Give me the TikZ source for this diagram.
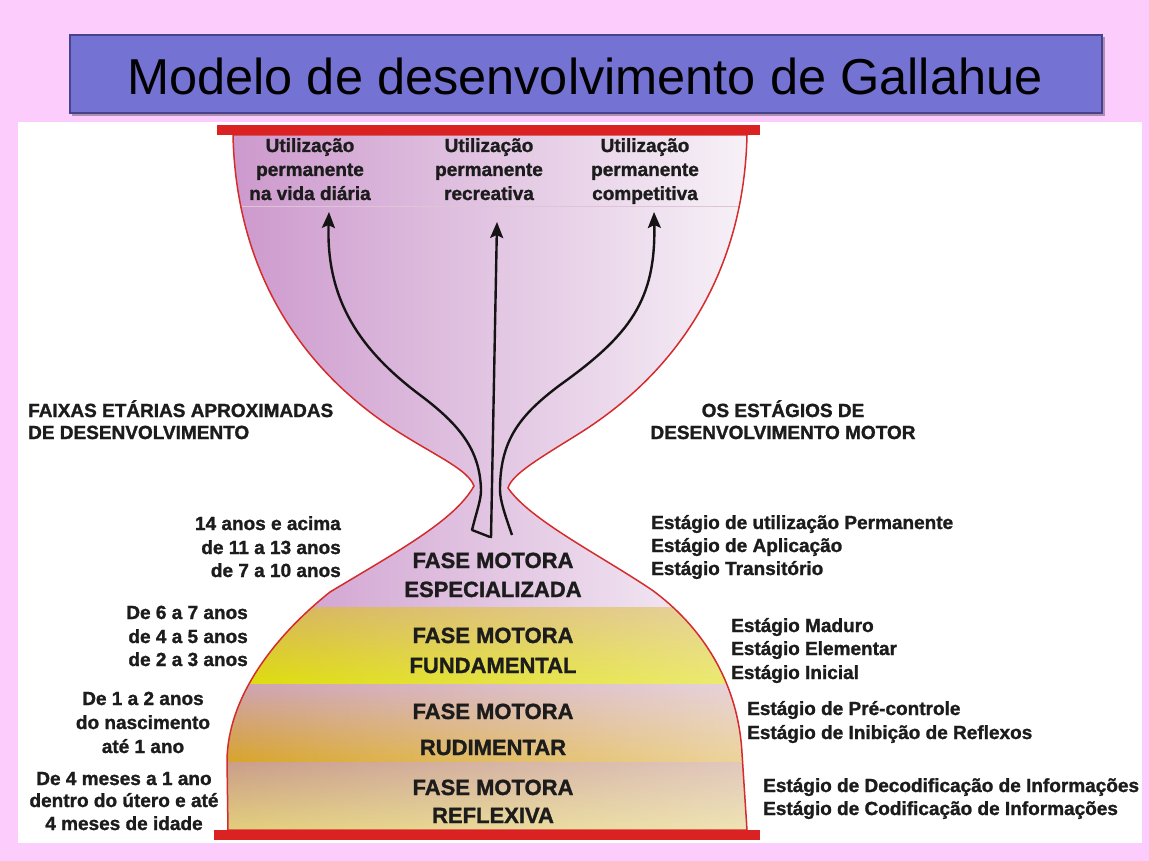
\documentclass[tikz,border=0pt]{standalone}
\usepackage{fontspec}
\usepackage{graphicx}
\setmainfont{Liberation Sans}[BoldFeatures={FakeBold=1.3}]
\usetikzlibrary{arrows.meta,fadings}
\definecolor{bgpink}{RGB}{252,205,252}
\definecolor{titlebar}{RGB}{116,114,210}
\definecolor{titleedge}{RGB}{72,66,140}
\definecolor{barred}{RGB}{218,34,34}
\definecolor{edgered}{RGB}{212,44,44}
\definecolor{txt}{RGB}{28,28,28}
\definecolor{purpL}{RGB}{204,152,204}
\definecolor{purpR}{RGB}{248,243,248}
\definecolor{fundT}{RGB}{214,178,86}
\definecolor{fundB}{RGB}{222,220,8}
\definecolor{rudT}{RGB}{206,162,178}
\definecolor{rudB}{RGB}{216,164,40}
\definecolor{refT}{RGB}{202,158,138}
\definecolor{refB}{RGB}{228,208,122}
\definecolor{sepline}{RGB}{222,196,214}
\tikzset{
  lab/.style={font=\fontsize{19}{24}\selectfont\bfseries, text=txt, inner sep=0pt},
  phase/.style={font=\fontsize{22}{26}\selectfont\bfseries, text=txt, inner sep=0pt, anchor=base},
  arr/.style={line width=2.4pt, draw=black!92, line join=round, -{Stealth[length=16pt,width=13pt,inset=3pt]}},
  outline/.style={draw=edgered, line width=1.5pt},
}
\def\hgpath{(233,135) -- (747,135)
  .. controls (744,270) and (680,370) .. (580,433)
  .. controls (540,458) and (512,474) .. (508,488)
  .. controls (530,520) and (600,555) .. (652,590)
  .. controls (700,625) and (738,680) .. (742,753)
  -- (747,830) -- (228,830) -- (227,760)
  .. controls (228,700) and (270,640) .. (330,592)
  .. controls (400,550) and (455,520) .. (474,486)
  .. controls (468,470) and (440,458) .. (400,433)
  .. controls (300,370) and (236,270) .. (233,135) -- cycle}
\begin{document}
\begin{tikzpicture}[x=1pt,y=-1pt]
\useasboundingbox (0,0) rectangle (1149,861);
\fill[bgpink] (0,0) rectangle (1149,861);
\fill[white] (18,122) rectangle (1142,843);
% title bar
\fill[black, opacity=0.3] (72,37) rectangle (1105,116);
\fill[titlebar, draw=titleedge, line width=1.4pt] (70,35) rectangle (1102,113);
\node[font=\fontsize{50.5}{56}\selectfont, text=black, inner sep=0pt, anchor=base] (title) at (585,95) {Modelo de desenvolvimento de Gallahue};
% hourglass fill
\begin{scope}
  \clip \hgpath;
  \shade[left color=purpL, right color=purpR] (225,125) rectangle (760,607);
  \shade[top color=fundT, bottom color=fundB] (220,607) rectangle (760,684);
  \fill[white, opacity=0.45, path fading=west] (220,607) rectangle (760,684);
  \shade[top color=rudT, bottom color=rudB] (220,684) rectangle (760,762);
  \fill[white, opacity=0.55, path fading=west] (220,684) rectangle (760,762);
  \shade[top color=refT, bottom color=refB] (220,762) rectangle (760,832);
  \fill[white, opacity=0.45, path fading=west] (220,762) rectangle (760,832);
  \draw[sepline, line width=0.8pt] (225,206) -- (760,206);
\end{scope}
\draw[outline] \hgpath;
% red bars
\fill[barred] (217,125) rectangle (760,135);
\fill[barred] (214,830) rectangle (760,840);
% top labels
\node[lab, anchor=base] (u1a) at (310,152) {Utilização};
\node[lab, anchor=base] (u1b) at (310,176) {permanente};
\node[lab, anchor=base] (u1c) at (310,200) {na vida diária};
\node[lab, anchor=base] (u2a) at (489,152) {Utilização};
\node[lab, anchor=base] (u2b) at (489,176) {permanente};
\node[lab, anchor=base] (u2c) at (489,200) {recreativa};
\node[lab, anchor=base] (u3a) at (645,152) {Utilização};
\node[lab, anchor=base] (u3b) at (645,176) {permanente};
\node[lab, anchor=base] (u3c) at (645,200) {competitiva};
% arrows
\coordinate (lt) at (329,212);
\coordinate (mt) at (497,222);
\coordinate (rt) at (654,212);
\coordinate (lb) at (490,537);
\coordinate (mb) at (491,538);
\coordinate (rb) at (512,535);
\draw[arr] (lb) -- (472,530) .. controls (477,510) and (481,500) .. (481,490)
  .. controls (480,450) and (460,425) .. (420,395)
  .. controls (360,350) and (326,300) .. (lt);
\draw[arr] (mb) -- (mt);
\draw[arr] (rb) .. controls (505,515) and (500,500) .. (500,490)
  .. controls (500,440) and (520,415) .. (560,385)
  .. controls (630,335) and (656,300) .. (rt);
% headers
\node[lab, anchor=base west] (fx1) at (28,417) {FAIXAS ETÁRIAS APROXIMADAS};
\node[lab, anchor=base west] (fx2) at (28,439) {DE DESENVOLVIMENTO};
\node[lab, anchor=base] (os1) at (783,417) {OS ESTÁGIOS DE};
\node[lab, anchor=base] (os2) at (783,439) {DESENVOLVIMENTO MOTOR};
% ages
\node[lab, anchor=base east] (a1) at (341,530) {14 anos e acima};
\node[lab, anchor=base east] (a2) at (341,554) {de 11 a 13 anos};
\node[lab, anchor=base east] (a3) at (341,577) {de 7 a 10 anos};
\node[lab, anchor=base east] (b1) at (248,619) {De 6 a 7 anos};
\node[lab, anchor=base east] (b2) at (248,643) {de 4 a 5 anos};
\node[lab, anchor=base east] (b3) at (248,666) {de 2 a 3 anos};
\node[lab, anchor=base] (c1) at (143,705) {De 1 a 2 anos};
\node[lab, anchor=base] (c2) at (143,729) {do nascimento};
\node[lab, anchor=base] (c3) at (143,753) {até 1 ano};
\node[lab, anchor=base] (d1) at (124,785) {De 4 meses a 1 ano};
\node[lab, anchor=base] (d2) at (124,807) {dentro do útero e até};
\node[lab, anchor=base] (d3) at (124,830) {4 meses de idade};
% phases
\node[phase] (p1a) at (493,568) {FASE MOTORA};
\node[phase] (p1b) at (493,597) {ESPECIALIZADA};
\node[phase] (p2a) at (493,643) {FASE MOTORA};
\node[phase] (p2b) at (493,673) {FUNDAMENTAL};
\node[phase] (p3a) at (493,719) {FASE MOTORA};
\node[phase] (p3b) at (493,755) {RUDIMENTAR};
\node[phase] (p4a) at (493,795) {FASE MOTORA};
\node[phase] (p4b) at (493,823) {REFLEXIVA};
% stages
\node[lab, anchor=base west] (s1) at (651,529) {Estágio de utilização Permanente};
\node[lab, anchor=base west] (s2) at (651,552) {Estágio de Aplicação};
\node[lab, anchor=base west] (s3) at (651,575) {Estágio Transitório};
\node[lab, anchor=base west] (s4) at (731,632) {Estágio Maduro};
\node[lab, anchor=base west] (s5) at (731,655) {Estágio Elementar};
\node[lab, anchor=base west] (s6) at (731,679) {Estágio Inicial};
\node[lab, anchor=base west] (s7) at (747,715) {Estágio de Pré-controle};
\node[lab, anchor=base west] (s8) at (747,739) {Estágio de Inibição de Reflexos};
\node[lab, anchor=base west] (s9) at (763,792) {Estágio de Decodificação de Informações};
\node[lab, anchor=base west] (s10) at (763,815) {Estágio de Codificação de Informações};
\end{tikzpicture}
\end{document}
